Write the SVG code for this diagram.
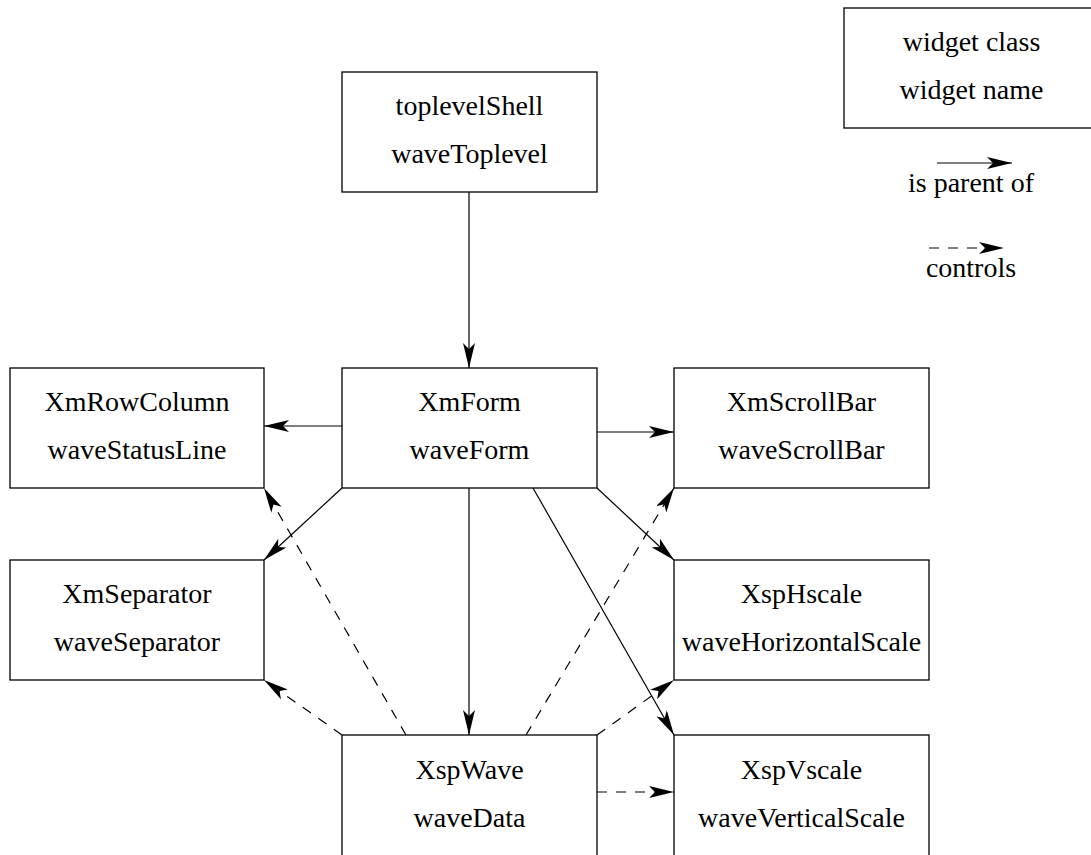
<svg xmlns="http://www.w3.org/2000/svg" width="1091" height="855" viewBox="0 0 1091 855">
<style>
.box{fill:#fff;stroke:#000;stroke-width:1.3}
.t{font-size:28px;fill:#000;text-anchor:middle}
.c{stroke:#000;stroke-width:1.2;fill:none;marker-end:url(#ah)}
.d{stroke-dasharray:10 9}
</style>
<defs>
<marker id="ah" viewBox="0 0 26 12" refX="25" refY="6" markerWidth="26" markerHeight="12" orient="auto" markerUnits="userSpaceOnUse">
<path d="M0,0 L25,6 L0,12 L6,6 Z" fill="#000"/>
</marker>
</defs>
<rect width="1091" height="855" fill="#fff"/>
<g font-family="Liberation Serif, Times New Roman, DejaVu Serif, serif">
<g id="legend">
<rect class="box" x="844" y="8" width="256" height="120"/>
<text class="t" x="971.5" y="51">widget class</text>
<text class="t" x="971.5" y="99">widget name</text>
<line class="c" x1="937" y1="163" x2="1012" y2="163"/>
<text class="t" x="971" y="192">is parent of</text>
<line class="c d" x1="929" y1="248" x2="1004" y2="248"/>
<text class="t" x="971" y="277">controls</text>
</g>
<g id="toplevelShell">
<rect class="box" x="342" y="72" width="255" height="120"/>
<text class="t" x="469.5" y="115">toplevelShell</text>
<text class="t" x="469.5" y="163">waveToplevel</text>
</g>
<g id="XmRowColumn">
<rect class="box" x="10" y="368" width="254" height="120"/>
<text class="t" x="137" y="411">XmRowColumn</text>
<text class="t" x="137" y="459">waveStatusLine</text>
</g>
<g id="XmForm">
<rect class="box" x="342" y="368" width="255" height="120"/>
<text class="t" x="469.5" y="411">XmForm</text>
<text class="t" x="469.5" y="459">waveForm</text>
</g>
<g id="XmScrollBar">
<rect class="box" x="674" y="368" width="255" height="120"/>
<text class="t" x="801.5" y="411">XmScrollBar</text>
<text class="t" x="801.5" y="459">waveScrollBar</text>
</g>
<g id="XmSeparator">
<rect class="box" x="10" y="560" width="254" height="120"/>
<text class="t" x="137" y="603">XmSeparator</text>
<text class="t" x="137" y="651">waveSeparator</text>
</g>
<g id="XspHscale">
<rect class="box" x="674" y="560" width="255" height="120"/>
<text class="t" x="801.5" y="603">XspHscale</text>
<text class="t" x="801.5" y="651">waveHorizontalScale</text>
</g>
<g id="XspWave">
<rect class="box" x="342" y="735" width="255" height="125"/>
<text class="t" x="469.5" y="779">XspWave</text>
<text class="t" x="469.5" y="827">waveData</text>
</g>
<g id="XspVscale">
<rect class="box" x="674" y="735" width="255" height="125"/>
<text class="t" x="801.5" y="779">XspVscale</text>
<text class="t" x="801.5" y="827">waveVerticalScale</text>
</g>
</g>
<g id="connectors">
<line class="c" x1="469" y1="192" x2="469" y2="368"/>
<line class="c" x1="342" y1="426" x2="264" y2="426"/>
<line class="c" x1="597" y1="432" x2="674" y2="432"/>
<line class="c" x1="342" y1="488" x2="264" y2="560"/>
<line class="c" x1="597" y1="488" x2="674" y2="560"/>
<line class="c" x1="469" y1="488" x2="469" y2="735"/>
<line class="c" x1="533" y1="488" x2="674" y2="735"/>
<line class="c d" x1="406" y1="735" x2="264" y2="488"/>
<line class="c d" x1="342" y1="735" x2="264" y2="680"/>
<line class="c d" x1="526" y1="735" x2="674" y2="488"/>
<line class="c d" x1="597" y1="735" x2="674" y2="680"/>
<line class="c d" x1="597" y1="792" x2="674" y2="792"/>
</g>
</svg>
